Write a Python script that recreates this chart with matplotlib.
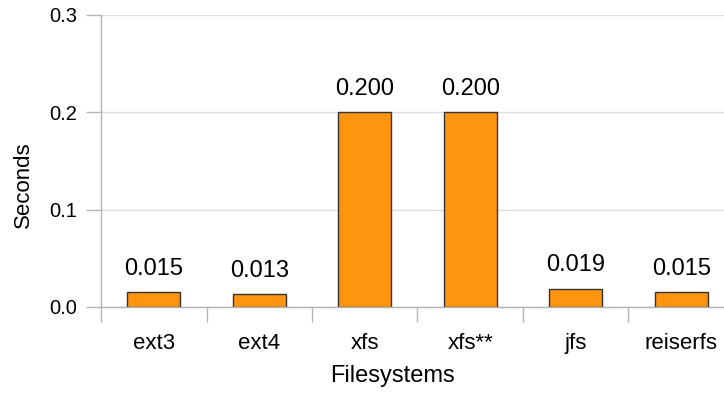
import matplotlib
matplotlib.use("Agg")
import matplotlib.pyplot as plt
import numpy as np

categories = ["ext3", "ext4", "xfs", "xfs**", "jfs", "reiserfs"]
values = [0.015, 0.013, 0.200, 0.200, 0.019, 0.015]
value_labels = ["0.015", "0.013", "0.200", "0.200", "0.019", "0.015"]
yticks = [0.0, 0.1, 0.2, 0.3]
ytick_labels = ["0.0", "0.1", "0.2", "0.3"]

plt.rcParams['font.family'] = ['Liberation Sans', 'DejaVu Sans']

fig = plt.figure(figsize=(7.24, 3.95), dpi=100)
ax = fig.add_axes([101/724, 1-307/395, 633/724, 292/395])

x = np.arange(len(categories))
bars = ax.bar(x, values, width=0.5, color="#ff950e", edgecolor="#333333", linewidth=1.0, zorder=3)

for xi, v, lab in zip(x, values, value_labels):
    ax.annotate(lab, (xi, v), xytext=(0, 9), textcoords="offset points",
                ha="center", va="bottom", fontsize=17, color="#000000")

ax.set_xlim(-0.5, len(categories) - 0.5)
ax.set_ylim(0, 0.3)
ax.set_yticks(yticks)
ax.set_yticklabels(ytick_labels, fontsize=14.5)
ax.set_xticks(x)
ax.set_xticklabels(categories, fontsize=16)
ax.set_xticks(np.arange(len(categories) + 1) - 0.5, minor=True)

ax.tick_params(axis="x", which="major", length=0, pad=19)
ax.tick_params(axis="x", which="minor", length=11, color="#b3b3b3", width=1)
ax.tick_params(axis="y", length=11, color="#b3b3b3", width=1, pad=6)

ax.grid(axis="y", color="#dddddd", linewidth=1, zorder=0)
ax.set_axisbelow(True)
for s in ["top", "right"]:
    ax.spines[s].set_visible(False)
for s in ["left", "bottom"]:
    ax.spines[s].set_color("#b3b3b3")
    ax.spines[s].set_linewidth(1)
    ax.spines[s].set_zorder(4)

ax.set_ylabel("Seconds", fontsize=16)
ax.set_xlabel("Filesystems", fontsize=17)
ax.xaxis.set_label_coords((393-101)/633, -(365-307)/292)
ax.yaxis.set_label_coords(-(101-34)/633, (307-185)/292)

fig.savefig("out.png", dpi=100)
